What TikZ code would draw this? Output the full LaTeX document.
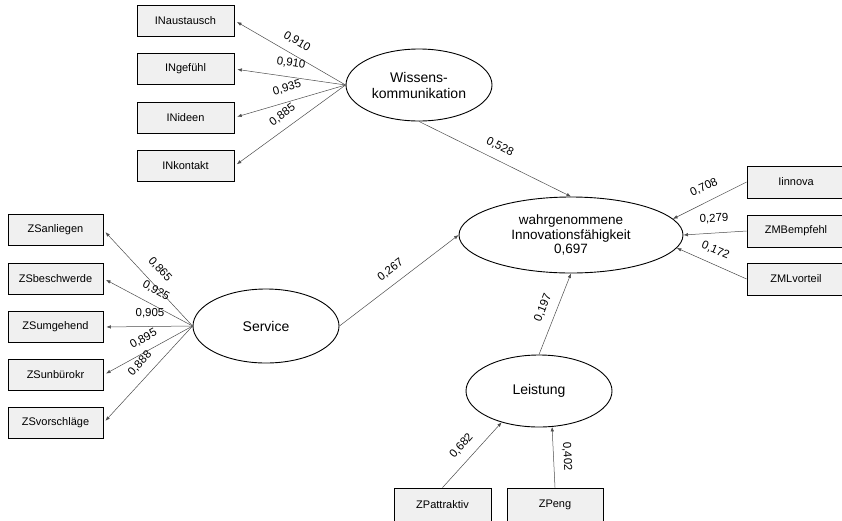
\documentclass[tikz,border=0pt]{standalone}
\usepackage{fontspec}
\setmainfont{Liberation Sans}
\usetikzlibrary{arrows.meta,shapes.geometric}
\begin{document}
\begin{tikzpicture}[x=1pt,y=-1pt,
  boxnode/.style={draw=black, line width=0.8pt, fill=black!6, minimum width=97pt, minimum height=31pt, inner sep=0pt, font=\fontsize{11}{13}\selectfont},
  latent/.style={ellipse, draw=black, line width=0.9pt, fill=white, inner sep=0pt, align=center, font=\fontsize{14}{16}\selectfont},
  conn/.style={draw=black!70, line width=0.5pt, -{Latex[length=4.5pt,width=3.5pt]}},
  lab/.style={font=\fontsize{11.5}{13}\selectfont, inner sep=0pt}]
\useasboundingbox (0,0) rectangle (842,520);
% indicator boxes
\node[boxnode] (ina) at (185.5,20.5) {INaustausch};
\node[boxnode] (ing) at (185.5,69) {INgefühl};
\node[boxnode] (ini) at (185.5,117.5) {INideen};
\node[boxnode] (ink) at (185.5,166) {INkontakt};
\node[boxnode, minimum width=95pt] (zsa) at (55.5,230) {ZSanliegen};
\node[boxnode, minimum width=95pt] (zsb) at (55.5,278.5) {ZSbeschwerde};
\node[boxnode, minimum width=95pt] (zsu) at (55.5,327) {ZSumgehend};
\node[boxnode, minimum width=95pt] (zsn) at (55.5,375) {ZSunbürokr};
\node[boxnode, minimum width=95pt] (zsv) at (55.5,423) {ZSvorschläge};
\node[boxnode, minimum width=98pt, minimum height=32pt] (iin) at (796,182) {Iinnova};
\node[boxnode, minimum width=98pt, minimum height=32pt] (zmb) at (796,231) {ZMBempfehl};
\node[boxnode, minimum width=98pt, minimum height=32pt] (zml) at (796,279) {ZMLvorteil};
\node[boxnode, minimum height=34pt] (zpa) at (442.5,505) {ZPattraktiv};
\node[boxnode, minimum width=96pt, minimum height=34pt] (zpe) at (555,505) {ZPeng};
% latent variables
\node[latent, minimum width=146pt, minimum height=72pt] (wk) at (419,85) {Wissens-\\kommunikation};
\node[latent, minimum width=224pt, minimum height=76pt, font=\fontsize{13.5}{14.5}\selectfont] (wi) at (571,235) {wahrgenommene\\Innovationsfähigkeit\\0,697};
\node[latent, minimum width=146pt, minimum height=74pt] (sv) at (266,326) {Service};
\node[latent, minimum width=146pt, minimum height=72pt] (ls) at (539,391) {Leistung};
% connectors
\draw[conn, shorten >=3pt] (wk.west) -- (ina.east);
\draw[conn, shorten >=3pt] (wk.west) -- (ing.east);
\draw[conn, shorten >=3pt] (wk.west) -- (ini.east);
\draw[conn, shorten >=3pt] (wk.west) -- (ink.east);
\draw[conn, shorten >=3pt] (sv.west) -- (zsa.east);
\draw[conn, shorten >=3pt] (sv.west) -- (zsb.east);
\draw[conn, shorten >=3pt] (sv.west) -- (zsu.east);
\draw[conn, shorten >=3pt] (sv.west) -- (zsn.east);
\draw[conn, shorten >=3pt] (sv.west) -- (zsv.east);
\draw[conn] (wk.south) -- (wi.north);
\draw[conn] (sv.east) -- (wi.west);
\draw[conn] (ls.north) -- (wi.south);
\draw[conn] (iin.west) -- (wi.9);
\draw[conn] (zmb.west) -- (wi.east);
\draw[conn] (zml.west) -- (wi.-7);
\draw[conn] (zpa.north) -- (ls.-140);
\draw[conn] (zpe.north) -- (ls.-70);
% path coefficients / loadings
\node[lab, rotate=-30.6] (l1) at (297,41.5) {0,910};
\node[lab, rotate=-8.4] (l2) at (291,63) {0,910};
\node[lab, rotate=16.2] (l3) at (287,88) {0,935};
\node[lab, rotate=36.4] (l4) at (282.5,115) {0,885};
\node[lab, rotate=-47.8] (l5) at (160,269.5) {0,865};
\node[lab, rotate=-29.2] (l6) at (156,290.5) {0,925};
\node[lab] (l7) at (150,313) {0,905};
\node[lab, rotate=29.2] (l8) at (143.5,339) {0,895};
\node[lab, rotate=47.2] (l9) at (140,363.5) {0,888};
\node[lab, rotate=37.2] (l10) at (390.5,270) {0,267};
\node[lab, rotate=-26.9] (l11) at (500,147) {0,528};
\node[lab, rotate=25.3] (l12) at (704,187.5) {0,708};
\node[lab, rotate=2.7] (l13) at (714,218.5) {0,279};
\node[lab, rotate=-23] (l14) at (715.5,250.5) {0,172};
\node[lab, rotate=68.3] (l15) at (543,308) {0,197};
\node[lab, rotate=48.7] (l16) at (461.5,446) {0,682};
\node[lab, rotate=-87.2] (l17) at (567,456.5) {0,402};
\end{tikzpicture}
\end{document}
